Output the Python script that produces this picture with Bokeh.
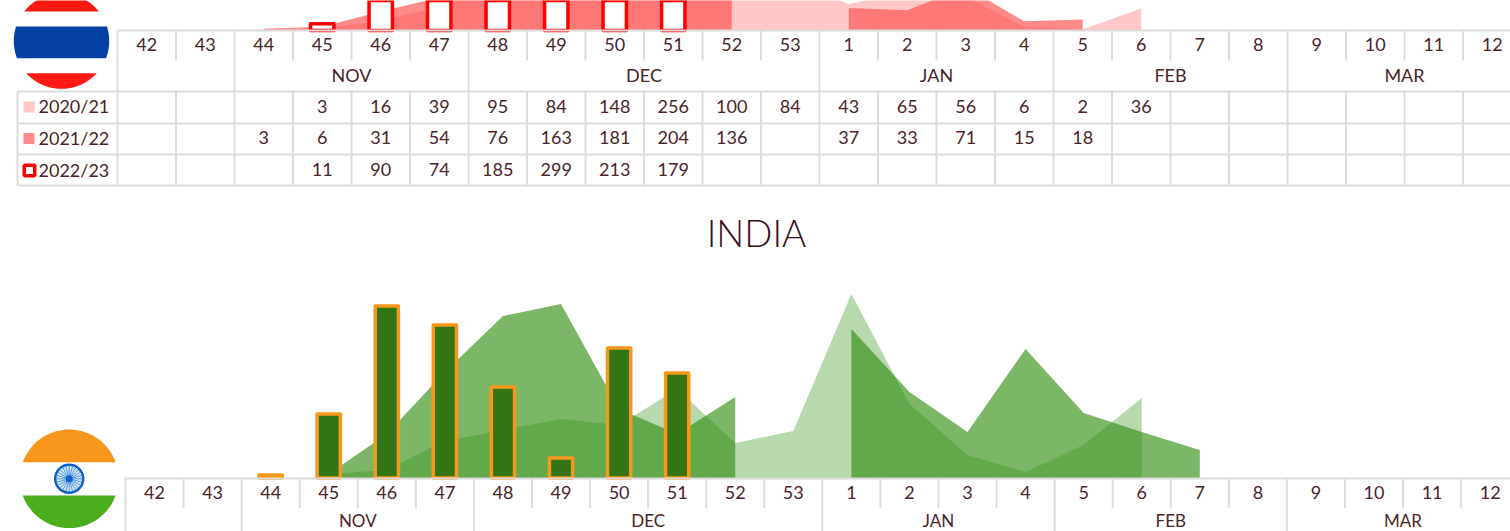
import numpy as np
from bokeh.plotting import figure
from bokeh.models import LinearAxis, FixedTicker, Range1d
from bokeh.layouts import column
from bokeh.core.properties import value
from bokeh.embed import file_html
from bokeh.resources import INLINE

# ---------- data ----------
weeks = ["42","43","44","45","46","47","48","49","50","51","52","53",
         "1","2","3","4","5","6","7","8","9","10","11","12"]
months = ["NOV", "DEC", "JAN", "FEB", "MAR"]
month_start = [2, 6, 12, 16, 20]
month_end = [6, 12, 16, 20, 24]
seasons = ["2020/21", "2021/22", "2022/23"]
N = None
th_2020 = [N,N,N,3,16,39,95,84,148,256,100,84,43,65,56,6,2,36,N,N,N,N,N,N]
th_2021 = [N,N,3,6,31,54,76,163,181,204,136,N,37,33,71,15,18,N,N,N,N,N,N,N]
th_2022 = [N,N,N,11,90,74,185,299,213,179,N,N,N,N,N,N,N,N,N,N,N,N,N,N]
in_2020 = [N,N,N,8,16,74,96,118,106,178,70,94,368,148,46,12,66,160,N,N,N,N,N,N]
in_2021 = [N,N,N,8,88,212,324,348,138,88,162,N,298,172,92,258,130,92,56,N,N,N,N,N]
in_2022 = [N,N,6,128,344,306,182,40,260,210,N,N,N,N,N,N,N,N,N,N,N,N,N,N]

FONT = "Lato"
TXT = "#4a2428"
GRID = "#dcdcdc"
RED, GREEN = "#ff5252", "#349016"

# ---------- layout ----------
LEFT, RIGHT = 0, 1510


def runs(vals):
    out, cur = [], []
    for i, v in enumerate(vals):
        if v is None:
            if cur:
                out.append(cur)
            cur = []
        else:
            cur.append((i, v))
    if cur:
        out.append(cur)
    return out


def panel(top_px, bot_px, col0, col_w, base, scale, s1, s2, bars, col, edge, bar_fill, a1=.35, a2=.65,
          month_bottom=0, week_standoff=2, month_offset=27, month_size="18px"):
    hx = lambda px: (np.asarray(px, dtype=float) - (col0 + col_w / 2)) / col_w
    hy = lambda py: (base - np.asarray(py, dtype=float)) / scale
    p = figure(width=RIGHT - LEFT, height=bot_px - top_px, output_backend="svg", toolbar_location=None,
               x_range=Range1d(float(hx(LEFT)), float(hx(RIGHT))),
               y_range=Range1d(float(hy(bot_px)), float(hy(top_px))),
               min_border=0, outline_line_color=None, x_axis_type=None, y_axis_type=None)
    p.grid.visible = False
    for vals, a in ((s1, a1), (s2, a2)):
        for r in runs(vals):
            xs = [t[0] for t in r]
            ys = [t[1] for t in r]
            p.varea(x=xs, y1=[0] * len(xs), y2=ys, fill_color=col, fill_alpha=a)
    bx = [i for i, v in enumerate(bars) if v is not None]
    bt = [v for v in bars if v is not None]
    p.vbar(x=bx, top=bt, bottom=0, width=0.4, fill_color=bar_fill, line_color=edge, line_width=3.5,
           line_join="round")

    # week axis on the baseline
    ax = LinearAxis(fixed_location=0, ticker=FixedTicker(ticks=list(range(24))),
                    major_label_overrides={i: w for i, w in enumerate(weeks)},
                    major_tick_line_color=None, minor_tick_line_color=None,
                    axis_line_color=GRID, axis_line_width=2, bounds=(-0.5, 24),
                    major_label_text_font=FONT, major_label_text_font_size="18px",
                    major_label_text_color=TXT, major_label_standoff=week_standoff)
    p.add_layout(ax, "below")
    # month axis
    mticks = [(a + b) / 2 - 0.5 for a, b in zip(month_start, month_end)]
    mx = LinearAxis(fixed_location=float(hy(base + month_offset)), ticker=FixedTicker(ticks=mticks),
                    major_label_overrides={t: m for t, m in zip(mticks, months)},
                    major_tick_line_color=None, minor_tick_line_color=None, axis_line_color=None,
                    major_label_text_font=FONT, major_label_text_font_size=month_size,
                    major_label_text_color=TXT, major_label_standoff=0)
    p.add_layout(mx, "below")

    # week separators
    short = [k for k in range(1, 24) if k not in month_start]
    p.segment(x0=[k - .5 for k in short], x1=[k - .5 for k in short], y0=0,
              y1=float(hy(base + 30)), line_color=GRID, line_width=2)
    long_ = [0] + month_start
    p.segment(x0=[k - .5 for k in long_], x1=[k - .5 for k in long_], y0=0,
              y1=float(hy(month_bottom)), line_color=GRID, line_width=2)
    return p, hx, hy


def band(hx, hy, cx, cy, r, y0, y1):
    t0 = np.arcsin(np.clip((y0 - cy) / r, -1, 1))
    t1 = np.arcsin(np.clip((y1 - cy) / r, -1, 1))
    t = np.linspace(t0, t1, 40)
    xr = cx + r * np.cos(t)
    xl = cx - r * np.cos(t)
    y = cy + r * np.sin(t)
    return hx(np.r_[xr, xl[::-1]]).tolist(), hy(np.r_[y, y[::-1]]).tolist()


# ---------- Thailand panel ----------
p1, hx, hy = panel(0, 200, 117, 58.5, 30, 0.61, th_2020, th_2021, th_2022, RED, "#ff0000", "#ffffff",
                   a1=.32, a2=.68, month_bottom=91, week_standoff=1)
rows = [91, 123, 154, 185]
row_mid = [105.5, 137, 169]
for yp in rows:
    p1.segment(x0=float(hx(17)), x1=float(hx(RIGHT)), y0=float(hy(yp)), y1=float(hy(yp)),
               line_color=GRID, line_width=2)
vx = [k - .5 for k in range(0, 24)]
p1.segment(x0=vx, x1=vx, y0=float(hy(91)), y1=float(hy(185)), line_color=GRID, line_width=2)
p1.segment(x0=float(hx(17)), x1=float(hx(17)), y0=float(hy(91)), y1=float(hy(185)), line_color=GRID, line_width=2)
for season, ym, vals in zip(seasons, row_mid, (th_2020, th_2021, th_2022)):
    xs = [i for i, v in enumerate(vals) if v is not None]
    tx = [str(v) for v in vals if v is not None]
    p1.text(x=xs, y=[float(hy(ym))] * len(xs), text=tx, text_font=value(FONT), text_font_size="18px",
            text_color=TXT, text_align="center", text_baseline="middle")
    p1.text(x=[float(hx(38))], y=[float(hy(ym))], text=[season], text_font=value(FONT), text_font_size="18px",
            text_color=TXT, text_align="left", text_baseline="middle")
p1.scatter(x=[float(hx(28.5))], y=[float(hy(106.5))], marker="square", size=11, fill_color=RED, fill_alpha=.32, line_color=None)
p1.scatter(x=[float(hx(28.5))], y=[float(hy(138))], marker="square", size=11, fill_color=RED, fill_alpha=.68, line_color=None)
p1.scatter(x=[float(hx(29))], y=[float(hy(170))], marker="square", size=10.5, fill_color="#ffffff", line_color="#ff0000", line_width=3.5)
# flag of Thailand
cx, cy, r = 61, 40.6, 47.7
for y0, y1, c in ((-7, 11, "#ff1a14"), (26, 57.7, "#0540a5"), (72.7, 88.3, "#ff1a14")):
    xs, ys = band(hx, hy, cx, cy, r, y0, y1)
    p1.patch(xs, ys, fill_color=c, line_color=None)

# ---------- India panel ----------
p2, hx2, hy2 = panel(200, 531, 125, 58.07, 477.5, 0.5, in_2020, in_2021, in_2022, GREEN, "#f7981d", "#337514",
                     month_bottom=540, week_standoff=2, month_offset=26, month_size="17px")
p2.text(x=[float(hx2(756))], y=[float(hy2(232))], text=["INDIA"], text_font=value("Lato Light"), text_font_size="37px",
        text_color="#3a0f14", text_align="center", text_baseline="middle")
cx, cy, r = 68.7, 478.3, 49.3
for y0, y1, c in ((cy - r, 461.7, "#f7981d"), (495, cy + r, "#4cae1e")):
    xs, ys = band(hx2, hy2, cx, cy, r, y0, y1)
    p2.patch(xs, ys, fill_color=c, line_color=None)
ang = np.linspace(0, 2 * np.pi, 24, endpoint=False)
p2.scatter(x=[float(hx2(cx))], y=[float(hy2(cy))], marker="circle", size=28, fill_color="#d7e6f7",
           line_color="#0b62c4", line_width=2.5)
p2.segment(x0=hx2(cx + 3 * np.cos(ang)).tolist(), y0=hy2(cy + 3 * np.sin(ang)).tolist(),
           x1=hx2(cx + 13 * np.cos(ang)).tolist(), y1=hy2(cy + 13 * np.sin(ang)).tolist(),
           line_color="#4f94dc", line_width=1)
p2.scatter(x=[float(hx2(cx))], y=[float(hy2(cy))], marker="circle", size=7, fill_color="#0b62c4", line_color=None)

open("out.html", "w").write(file_html(column(p1, p2, spacing=0), INLINE))
